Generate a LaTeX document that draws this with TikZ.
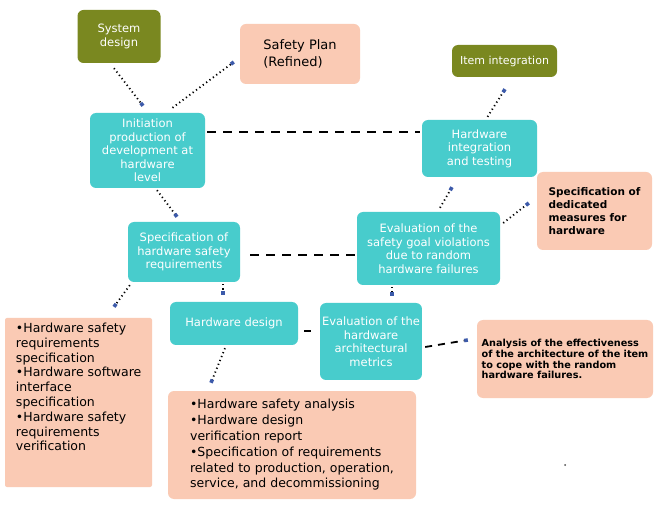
\documentclass[tikz,border=0pt]{standalone}
\usepackage{fontspec}
\setmainfont{DejaVu Sans}
\usetikzlibrary{arrows.meta,calc}
\definecolor{boxteal}{RGB}{72,204,204}
\definecolor{boxolive}{RGB}{122,136,32}
\definecolor{boxpeach}{RGB}{250,202,180}
\definecolor{tipblue}{RGB}{60,90,170}
\begin{document}
\begin{tikzpicture}[x=1pt,y=-1pt,
  base/.style={rounded corners=6pt, inner sep=2pt, align=center},
  tealbox/.style={base, fill=boxteal, text=white, font=\fontsize{11.5}{13.5}\selectfont},
  olivebox/.style={base, fill=boxolive, text=white},
  peachbox/.style={base, fill=boxpeach, text=black},
  dotlink/.style={line width=1.8pt, dash pattern=on 1.2pt off 3pt,
    -{Square[length=3.6pt,width=3.6pt,color=tipblue]}},
  dashlink/.style={line width=2pt, dash pattern=on 9pt off 7pt}]
\useasboundingbox[fill=white] (0,0) rectangle (654,513);

% process steps
\node[olivebox, minimum width=83pt, minimum height=53pt, font=\fontsize{11.5}{13.5}\selectfont]
  (sysdes) at (119,36.5) {System\\design};
\node[peachbox, minimum width=120pt, minimum height=60pt, align=left, font=\fontsize{13}{17}\selectfont]
  (safety) at (300,54) {Safety Plan\\(Refined)};
\node[olivebox, minimum width=105pt, minimum height=32pt, font=\fontsize{11}{13}\selectfont]
  (item) at (504.5,61) {Item integration};
\node[tealbox, minimum width=115pt, minimum height=75pt]
  (init) at (147.5,150.5) {Initiation\\production of\\development at\\hardware\\level};
\node[tealbox, minimum width=115pt, minimum height=57pt]
  (hwint) at (479.5,148.5) {Hardware\\integration\\and testing};
\node[peachbox, minimum width=115pt, minimum height=78pt, align=left, font=\bfseries\fontsize{10.5}{13}\selectfont]
  (dedic) at (594.5,211) {Specification of\\ dedicated\\measures for\\hardware};
\node[tealbox, minimum width=143pt, minimum height=73pt]
  (evalsg) at (428.5,248.5) {Evaluation of the\\safety goal violations\\due to random\\hardware failures};
\node[tealbox, minimum width=112pt, minimum height=60pt]
  (spechw) at (184,252) {Specification of\\hardware safety\\requirements};
\node[tealbox, minimum width=128pt, minimum height=43pt]
  (hwdes) at (234,323.5) {Hardware design};
\node[tealbox, minimum width=98pt, minimum height=77pt]
  (evalm) at (371,341.5) {Evaluation of the\\hardware\\architectural\\metrics};
\node[peachbox, minimum width=176pt, minimum height=78pt, align=left, font=\bfseries\fontsize{9.7}{10.8}\selectfont]
  (analysis) at (565,359) {Analysis of the effectiveness\\of the architecture of the item\\to cope with the random\\hardware failures.};

% work products
\node[fill=boxpeach, rounded corners=2pt, minimum width=147pt, minimum height=169pt]
  (leftbox) at (78.5,402.5) {};
\node[anchor=north west, align=left, inner sep=0pt, font=\fontsize{12.5}{14.8}\selectfont]
  (lefttext) at ($(leftbox.north west)+(11,5)$)
  {•Hardware safety\\requirements\\specification\\•Hardware software\\interface\\specification\\•Hardware safety\\requirements\\verification};
\node[peachbox, minimum width=248pt, minimum height=108pt, align=left, font=\fontsize{12.5}{15.8}\selectfont]
  (botbox) at (292,445) {•Hardware safety analysis\\•Hardware design\\verification report\\•Specification of requirements\\related to production, operation,\\service, and decommissioning};

% dashed links between steps
\draw[dashlink] ($(init.east)+(2,-18.5)$) -- ($(hwint.west)+(-2,-16.5)$);
\draw[dashlink] ($(spechw.east)+(10,3)$) -- ($(evalsg.west)+(0,6.5)$);
\draw[dashlink, shorten <=6pt, shorten >=9pt] ($(hwdes.east)+(0,7.5)$) -- ($(evalm.west)+(0,-10.5)$);
\draw[line width=1.8pt, dash pattern=on 7pt off 6pt, -{Square[length=3.6pt,width=3.6pt,color=tipblue]}]
  ($(evalm.east)+(3,5.5)$) -- ($(analysis.west)+(-9,-19)$);

% dotted links
\draw[dotlink] ($(sysdes.south)+(-5,5)$) -- ($(init.north)+(-4.5,-7)$);
\draw[dotlink] ($(init.north)+(25,-5)$) -- ($(safety.west)+(-6,8)$);
\draw[dotlink] ($(hwint.north)+(8,-3)$) -- ($(item.south)+(0.5,12)$);
\draw[dotlink] ($(evalsg.north)+(11.5,-4)$) -- ($(hwint.south)+(-27.5,10)$);
\draw[dotlink] ($(evalsg.east)+(3,-25.5)$) -- ($(dedic.west)+(-8,-8)$);
\draw[dotlink] ($(init.south)+(9.5,2)$) -- ($(spechw.north)+(-7,-5)$);
\draw[dotlink] ($(spechw.south west)+(2,3)$) -- ($(leftbox.north)+(35.5,-11)$);
\draw[dotlink] ($(spechw.south)+(39,2)$) -- ($(hwdes.north)+(-11,-7)$);
\draw[dotlink] ($(evalsg.south)+(-36.5,2)$) -- ($(evalm.north)+(21,-7)$);
\draw[dotlink] ($(hwdes.south)+(-9,3)$) -- ($(botbox.north)+(-81,-8)$);

\fill[black!70] (565,465) circle (1pt);
\end{tikzpicture}
\end{document}
